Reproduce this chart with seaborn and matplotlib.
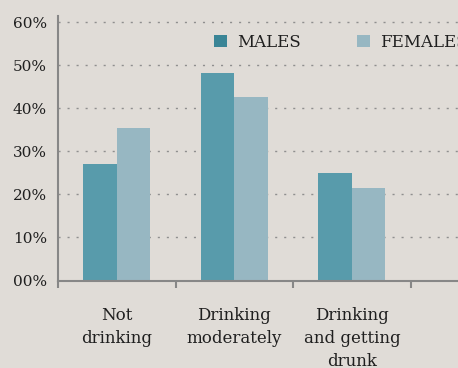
import matplotlib
matplotlib.use("Agg")
import matplotlib.pyplot as plt
from matplotlib.patches import Patch
import seaborn as sns
import pandas as pd

categories = ["Not\ndrinking", "Drinking\nmoderately", "Drinking\nand getting\ndrunk"]
groups = ["MALES", "FEMALES"]
males = [27.2, 48.2, 25.1]
females = [35.4, 42.6, 21.4]
yticks = [0, 10, 20, 30, 40, 50, 60]
ytick_labels = ["00%", "10%", "20%", "30%", "40%", "50%", "60%"]

df = pd.DataFrame({
    "category": categories * 2,
    "group": [groups[0]] * 3 + [groups[1]] * 3,
    "value": males + females,
})

bg = "#e0dcd7"
c_male = "#589bab"
c_female = "#97b7c2"
c_male_leg = "#3a8596"
txt = "#1f1f1f"
spine_c = "#878787"

sns.set_theme(style="white")
plt.rcParams["font.family"] = ["DejaVu Serif"]

fig = plt.figure(figsize=(4.58, 3.68), dpi=100, facecolor=bg)
ax = fig.add_axes([58 / 458, (368 - 280.5) / 368, (458 - 58) / 458, (280.5 - 16) / 368])
ax.set_facecolor(bg)

for y in yticks:
    ax.axhline(y, color="#8f8f8f", lw=1.0, linestyle=(0, (1.5, 5)), zorder=0)

sns.barplot(data=df, x="category", y="value", hue="group", order=categories,
            hue_order=groups, palette=[c_male, c_female], width=0.57,
            saturation=1, ax=ax, legend=False, zorder=2, linewidth=0,
            edgecolor="none")

ax.set_xlim(-0.5, 2.903)
ax.set_ylim(0, 61.5)
ax.set_yticks(yticks)
ax.set_yticklabels(ytick_labels, fontsize=11, color=txt)
ax.set_xticks([0, 1, 2])
ax.set_xticklabels(categories, fontsize=12, color=txt, linespacing=1.45)
ax.tick_params(axis="x", which="major", length=0, pad=19)
ax.tick_params(axis="y", length=0, pad=8)
# boundary tick marks
ax.set_xticks([-0.5, 0.5, 1.5, 2.5], minor=True)
ax.tick_params(axis="x", which="minor", bottom=True, length=5, width=1.5,
               color=spine_c, direction="out")
ax.set_xlabel("")
ax.set_ylabel("")

for s in ["top", "right"]:
    ax.spines[s].set_visible(False)
for s in ["left", "bottom"]:
    ax.spines[s].set_color(spine_c)
    ax.spines[s].set_linewidth(1.5)

handles = [Patch(facecolor=c_male_leg, edgecolor="none"),
           Patch(facecolor=c_female, edgecolor="none")]
leg = fig.legend(handles, groups, loc="center left",
                 bbox_to_anchor=(214 / 458, 1 - 42.5 / 368),
                 ncol=2, frameon=False, fontsize=12, handlelength=0.78,
                 handleheight=0.78, handletextpad=0.6, columnspacing=3.4,
                 borderpad=0, borderaxespad=0)
for t in leg.get_texts():
    t.set_color(txt)

fig.savefig("out.png", dpi=100, facecolor=bg)
